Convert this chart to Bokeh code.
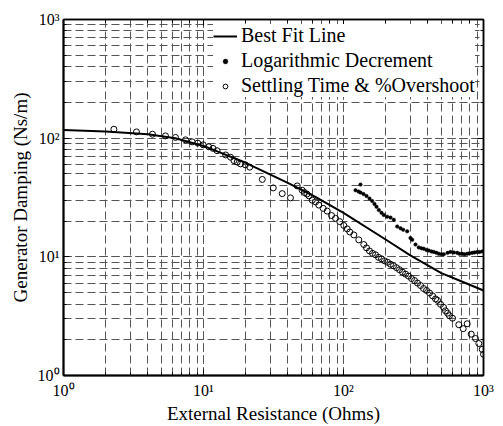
from bokeh.plotting import figure
from bokeh.models import LogAxis, Legend, LegendItem, Range1d
from bokeh.embed import file_html
from bokeh.resources import INLINE

# Best fit line (External resistance in Ohms, damping in Ns/m)
fit_R = [1, 2, 4, 6.3, 10, 20, 40, 63, 100, 200, 300, 500, 700, 1000]
fit_D = [117, 114, 108, 100, 86, 62, 42, 32, 23.5, 14.0, 10.3, 7.3, 6.2, 5.2]

# Settling time & %overshoot (open circles)
set_R = [2.29, 3.32, 4.32, 5.35, 6.31, 7.44, 8.30, 9.10, 9.95, 10.9, 11.7, 12.5,
         14.4, 15.6, 16.5, 17.4, 18.4, 19.9, 21.4, 26.3, 31.5, 36.5, 41.8, 46.7,
         50.7, 52.7, 54.8, 56.7, 59.8, 63.1, 66.6, 71.6, 76.5, 82.1, 87.7, 94.1,
         100.5, 106.3, 110.9, 118.5, 128.6, 139.6, 146.0, 153.4, 161.1, 169.3,
         177.8, 186.8, 196.3, 206.3, 216.6, 227.6, 239.1, 251.2, 263.9, 277.3,
         291.3, 306.1, 321.6, 337.9, 355.0, 372.8, 391.8, 411.6, 432.5, 454.4,
         469.3, 493.2, 518.0, 535.3, 553.5, 571.5, 600.7, 666.1, 716.1, 765.0,
         816.9, 876.6, 925.6, 978.7, 1000]
set_D = [118.9, 112.9, 108.0, 104.5, 101.4, 96.8, 93.1, 90.8, 87.9, 84.6, 82.0, 78.4,
         72.2, 69.1, 64.7, 62.8, 60.7, 59.6, 57.0, 44.9, 38.1, 34.1, 31.4, 39.6,
         36.4, 34.8, 33.8, 32.6, 30.0, 29.0, 27.3, 25.6, 24.3, 22.3, 21.1, 19.8,
         18.4, 17.2, 16.2, 15.3, 13.9, 12.7, 11.9, 11.2, 10.7, 10.4,
         9.90, 9.62, 9.26, 9.00, 8.66, 8.41, 8.10, 7.79, 7.43, 7.15,
         6.88, 6.56, 6.31, 6.01, 5.73, 5.41, 5.21, 4.96, 4.69, 4.42,
         4.30, 3.98, 3.76, 3.51, 3.35, 3.19, 3.04, 2.68, 2.48, 2.73,
         2.23, 2.05, 1.86, 1.66, 1.51]

# Logarithmic decrement (small filled dots)
log_R = [132.2, 121.8, 128.0, 132.2, 138.9, 146.0, 153.4, 160.3, 166.5, 172.1, 178.7, 186.8,
         194.0, 205.2, 216.6, 228.7, 241.9, 255.4, 266.9, 285.1, 300.9, 309.5, 326.7, 345.0,
         360.6, 374.7, 391.8, 406.6, 425.3, 441.7, 461.6, 479.6, 501.2, 520.3, 553.5, 580.8,
         613.8, 648.6, 674.0, 704.2, 731.5, 765.0, 794.3, 830.4, 862.7, 901.3, 935.8, 978.7]
log_D = [40.6, 36.4, 35.5, 34.8, 33.8, 32.6, 31.0, 29.5, 27.9, 26.4, 24.8, 23.5,
         22.5, 21.8, 21.4, 20.5, 18.0, 17.4, 16.9, 16.4, 14.4, 13.9, 12.7, 12.0,
         11.8, 11.7, 11.4, 11.3, 11.1, 11.0, 10.8, 10.6, 10.5, 10.5, 10.8, 11.0,
         10.9, 10.8, 10.6, 10.6, 10.5, 10.6, 10.7, 10.8, 10.9, 11.0, 11.0, 11.1]

tick_values = [1, 10, 100, 1000]
tick_labels = ["10\u2070", "10\u00b9", "10\u00b2", "10\u00b3"]

FONT = "Liberation Serif"

p = figure(width=503, height=426, x_axis_type="log", y_axis_type="log",
           x_range=Range1d(1, 1000), y_range=Range1d(1, 1000),
           output_backend="svg", toolbar_location=None,
           min_border_left=63, min_border_right=20, min_border_top=19, min_border_bottom=47,
           background_fill_color="white", border_fill_color="white")

p.outline_line_color = "black"
p.outline_line_width = 1.5

for g in (p.xgrid, p.ygrid):
    g.grid_line_color = "#555555"
    g.grid_line_dash = "8 4"
    g.grid_line_width = 1
    g.minor_grid_line_color = "#555555"
    g.minor_grid_line_dash = "8 4"
    g.minor_grid_line_width = 1

overrides = {float(v): t for v, t in zip(tick_values, tick_labels)}

def style_axis(ax, labels=True):
    ax.axis_line_color = "black"
    ax.axis_line_width = 2
    ax.major_tick_in = 6
    ax.major_tick_out = 0
    ax.minor_tick_in = 3
    ax.minor_tick_out = 0
    ax.major_tick_line_color = "black"
    ax.minor_tick_line_color = "black"
    ax.major_label_text_font = FONT
    ax.major_label_text_color = "black"
    ax.axis_label_text_font = FONT
    ax.axis_label_text_font_size = "19px"
    ax.axis_label_text_font_style = "normal"
    ax.axis_label_text_color = "black"
    if labels:
        ax.major_label_text_font_size = "16px"
        ax.major_label_overrides = overrides
    else:
        ax.major_label_text_font_size = "1px"
        ax.major_label_text_alpha = 0
        ax.major_label_standoff = 0

style_axis(p.xaxis[0])
style_axis(p.yaxis[0])
p.xaxis[0].axis_label = "External Resistance (Ohms)"
p.yaxis[0].axis_label = "Generator Damping (Ns/m)"
p.xaxis[0].major_label_standoff = 6
p.xaxis[0].axis_label_standoff = 1
p.yaxis[0].major_label_standoff = 4
p.yaxis[0].axis_label_standoff = 4

top = LogAxis(level="overlay")
right = LogAxis(level="overlay")
style_axis(top, labels=False)
style_axis(right, labels=False)
top.axis_line_width = 1.5
right.axis_line_width = 1.5
p.add_layout(top, "above")
p.add_layout(right, "right")

r_fit = p.line(fit_R, fit_D, line_color="black", line_width=2)
r_log = p.scatter(log_R, log_D, marker="circle", size=3.5,
                  fill_color="black", line_color="black", line_width=0.5)
r_set = p.scatter(set_R, set_D, marker="circle", size=6,
                  fill_color=None, line_color="black", line_width=1)

legend = Legend(items=[
    LegendItem(label="Best Fit Line", renderers=[r_fit]),
    LegendItem(label="Logarithmic Decrement", renderers=[r_log]),
    LegendItem(label="Settling Time & %Overshoot", renderers=[r_set]),
], location=(150, 278))
legend.label_text_font = FONT
legend.label_text_font_size = "20px"
legend.label_text_color = "black"
legend.background_fill_color = "white"
legend.background_fill_alpha = 1.0
legend.border_line_color = None
legend.margin = 0
legend.padding = 10
legend.spacing = 2
legend.glyph_width = 24
legend.glyph_height = 12
legend.label_standoff = 4
p.add_layout(legend)

open("out.html", "w").write(file_html(p, INLINE))
